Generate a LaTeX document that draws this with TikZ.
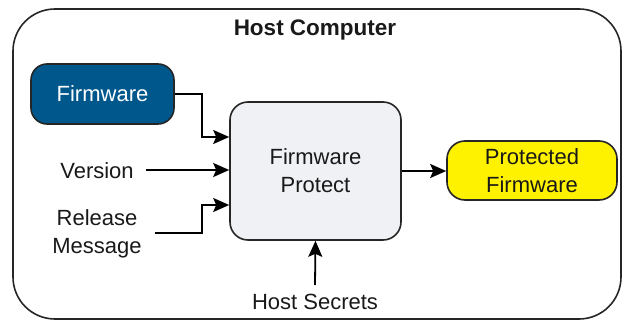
\documentclass[tikz,border=0pt]{standalone}
\usepackage{fontspec}
\setmainfont{Liberation Sans}
\usetikzlibrary{arrows.meta}
\begin{document}
\begin{tikzpicture}[x=1pt,y=-1pt,
  every node/.style={font=\fontsize{22}{28}\selectfont, align=center, text=black!90},
  box/.style={draw=black!85, line width=1.6pt, rounded corners=16pt, inner sep=0pt},
  link/.style={draw=black, line width=1.8pt, -{Stealth[length=16pt,width=14pt,inset=3pt]}},
]
\useasboundingbox (0,0) rectangle (625,321);
% enclosing frame
\draw[line width=1.6pt, draw=black!85, rounded corners=42pt] (13,9) rectangle (621,319);
\node[font=\fontsize{22.5}{28}\selectfont\bfseries] (title) at (315,30) {Host Computer};

% boxes
\node[box, fill={rgb,255:red,0;green,87;blue,140}, text=white,
      minimum width=143pt, minimum height=60pt] (fw) at (102.5,94) {Firmware};
\node[box, fill={rgb,255:red,240;green,241;blue,244}, rounded corners=18pt,
      minimum width=171pt, minimum height=138pt] (fp) at (315.5,171) {Firmware\\Protect};
\node[box, fill=yellow, rounded corners=18pt,
      minimum width=170pt, minimum height=59pt] (pf) at (532,170.5) {Protected\\Firmware};

% input labels
\node (ver) at (97,171) {Version};
\node (rel) at (97,234) {Release\\Message};
\node (hs) at (315,302) {Host Secrets};

\coordinate (verend) at (146,170);
\coordinate (relend) at (155,233);
\coordinate (hsend) at (315,285);

% connectors
\draw[link] (fw.east) -- (202,94) |- (fp.west |- 0,137);
\draw[link] (verend) -- (fp.west |- verend);
\draw[link] (relend) -- (202,233) |- (fp.west |- 0,205);
\draw[link] (hsend) -- (fp.south);
\draw[link] (fp.east) -- (pf.west |- fp.east);
\end{tikzpicture}
\end{document}
